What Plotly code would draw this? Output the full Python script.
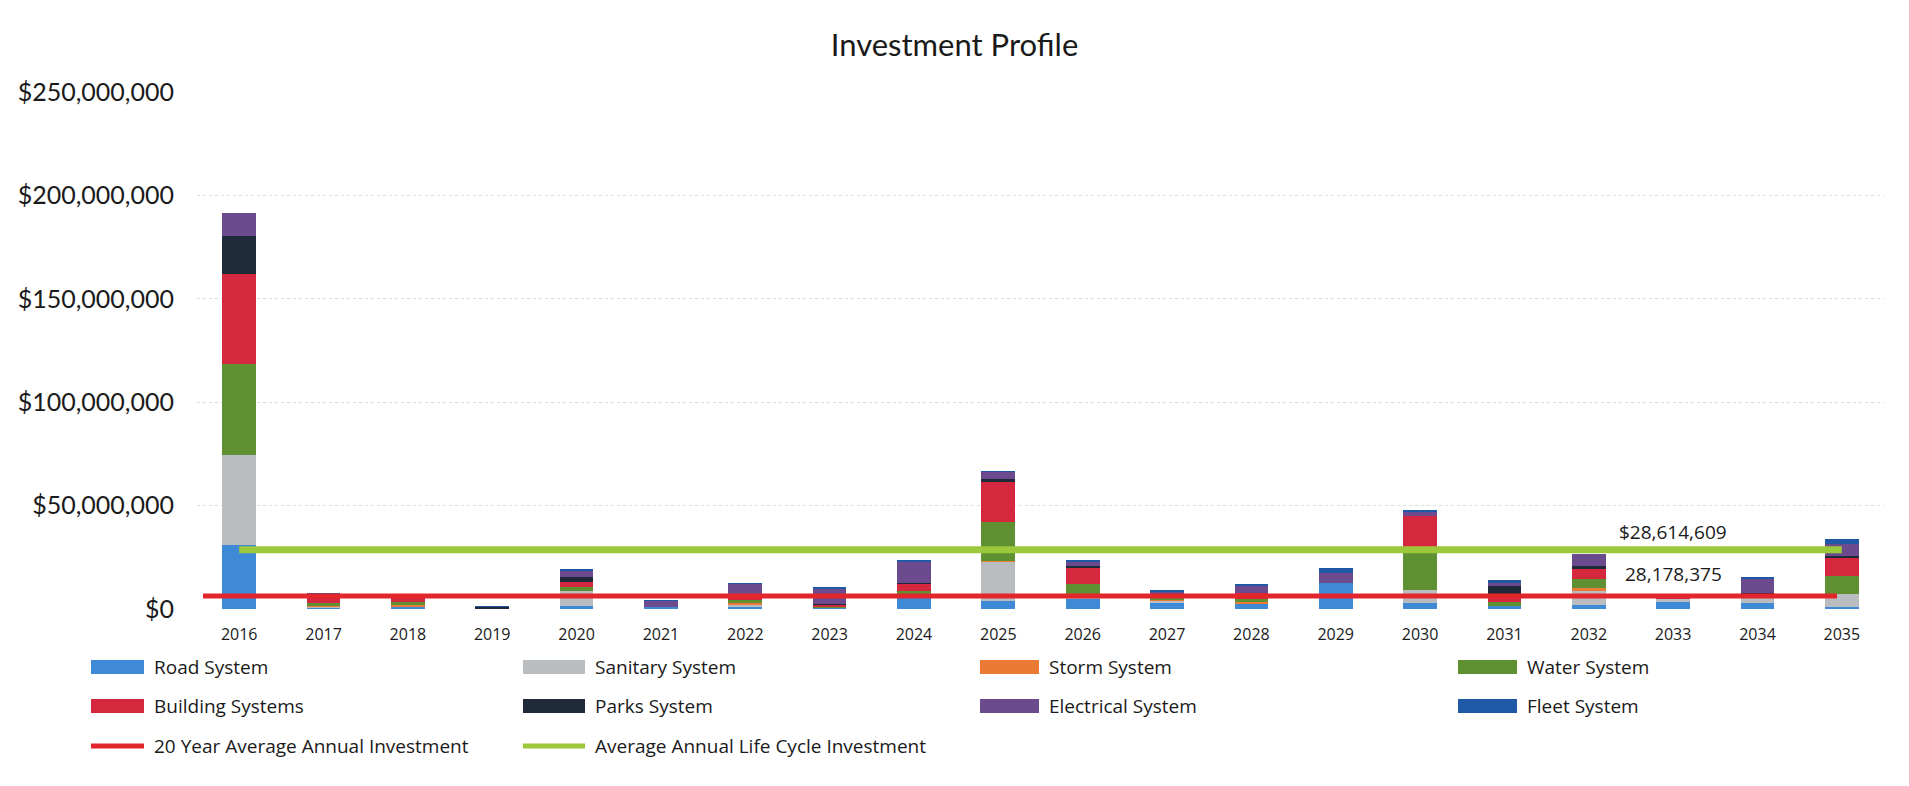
import plotly.graph_objects as go

# ---- data (values in $ millions) ----
years = [str(y) for y in range(2016, 2036)]

road_system =       [31.1, 0.8, 1.0, 0.0, 1.6, 1.0, 1.0, 0.6, 5.8, 3.7, 4.8, 2.9, 2.7, 12.5, 3.0, 1.3, 1.8, 3.3, 2.9, 1.0]
sanitary_system =   [43.4, 0.3, 0.3, 0.0, 7.2, 0.0, 0.8, 0.0, 0.8, 19.1, 2.4, 1.1, 0.0, 0.0, 6.0, 0.0, 7.1, 1.6, 4.0, 6.3]
storm_system =      [0.0, 0.4, 0.4, 0.3, 0.0, 0.0, 1.5, 0.2, 0.0, 0.5, 0.0, 0.8, 0.5, 0.0, 0.0, 0.0, 1.3, 0.0, 0.0, 0.0]
water_system =      [43.9, 1.5, 1.6, 0.0, 1.9, 0.0, 0.9, 0.6, 2.3, 18.8, 5.0, 0.8, 1.6, 0.0, 18.6, 2.0, 4.3, 0.0, 0.0, 8.5]
building_systems =  [43.4, 4.0, 3.0, 0.0, 2.3, 0.0, 1.1, 0.8, 3.5, 19.5, 7.6, 1.6, 2.7, 0.0, 17.5, 3.9, 4.8, 0.6, 0.0, 8.8]
parks_system =      [18.5, 0.0, 0.0, 0.7, 2.4, 0.0, 1.0, 0.2, 0.3, 1.1, 1.1, 0.0, 0.0, 0.0, 0.0, 3.8, 1.3, 0.6, 0.8, 1.1]
electrical_system = [11.3, 0.0, 0.3, 0.0, 3.4, 2.9, 6.0, 7.6, 9.8, 3.7, 2.1, 1.3, 4.0, 5.0, 2.0, 2.0, 6.0, 0.0, 7.2, 5.6]
fleet_system =      [0.0, 0.6, 0.7, 0.3, 0.6, 0.3, 0.2, 0.8, 1.1, 0.3, 0.8, 0.5, 0.8, 2.3, 1.0, 0.8, 0.0, 0.0, 0.8, 2.6]

twenty_year_average = 28178375
life_cycle_average = 28614609

y_tick_values = [0, 50e6, 100e6, 150e6, 200e6, 250e6]

series = [
    ("Road System", road_system, "#3f8ad6"),
    ("Sanitary System", sanitary_system, "#b9bdc0"),
    ("Storm System", storm_system, "#ea7a34"),
    ("Water System", water_system, "#5f9133"),
    ("Building Systems", building_systems, "#d5283f"),
    ("Parks System", parks_system, "#1e2939"),
    ("Electrical System", electrical_system, "#6b4b8d"),
    ("Fleet System", fleet_system, "#1f59a5"),
]
RED = "#e2262b"
GREEN = "#9cc83b"

# ---- layout geometry (pixels) ----
W, H = 1909, 786
L, R, T, B = 197, 25, 92, 177
PW, PH = W - L - R, H - T - B


def px(x):
    return (x - L) / PW


def py(y):
    return (H - B - y) / PH


TICK_FONT = "Lato, 'Open Sans', sans-serif"
TEXT_FONT = "'Open Sans', 'Noto Sans', sans-serif"

fig = go.Figure()

for name, values, color in series:
    fig.add_trace(go.Bar(
        x=years,
        y=[v * 1e6 for v in values],
        name=name,
        marker=dict(color=color, line=dict(width=0)),
        showlegend=False,
    ))

# life-cycle average on the primary axes
fig.add_trace(go.Scatter(
    x=years,
    y=[life_cycle_average] * len(years),
    mode="lines",
    line=dict(color=GREEN, width=7),
    name="Average Annual Life Cycle Investment",
    showlegend=False,
))

# 20-year average plotted on the secondary axes
fig.add_trace(go.Scatter(
    x=[int(y) for y in years],
    y=[twenty_year_average] * len(years),
    mode="lines",
    line=dict(color=RED, width=5),
    name="20 Year Average Annual Investment",
    xaxis="x2",
    yaxis="y2",
    showlegend=False,
))

# value labels sit above each average line, over the 2033 column
label_pos = years.index("2033")
annotations = [
    dict(x=label_pos, y=life_cycle_average, xref="x", yref="y",
         text="$28,614,609", showarrow=False, yanchor="bottom", yshift=3,
         font=dict(family=TEXT_FONT, size=19, color="#1a1a1a")),
    dict(x=label_pos, y=twenty_year_average, xref="x", yref="y2",
         text="28,178,375", showarrow=False, yanchor="bottom", yshift=7,
         font=dict(family=TEXT_FONT, size=19, color="#1a1a1a")),
]

# legend drawn as swatches + labels in four columns
legend_cols = [(91, 152), (523, 593), (980, 1047), (1458, 1525)]
legend_rows = [667, 706, 746]
legend_items = [
    ("Road System", "#3f8ad6", "bar", 0, 0),
    ("Sanitary System", "#b9bdc0", "bar", 1, 0),
    ("Storm System", "#ea7a34", "bar", 2, 0),
    ("Water System", "#5f9133", "bar", 3, 0),
    ("Building Systems", "#d5283f", "bar", 0, 1),
    ("Parks System", "#1e2939", "bar", 1, 1),
    ("Electrical System", "#6b4b8d", "bar", 2, 1),
    ("Fleet System", "#1f59a5", "bar", 3, 1),
    ("20 Year Average Annual Investment", RED, "line", 0, 2),
    ("Average Annual Life Cycle Investment", GREEN, "line", 1, 2),
]
shapes = []
for label, color, kind, c, r in legend_items:
    sx, tx = legend_cols[c]
    cy = legend_rows[r]
    sw = tx - sx - 8
    half = 7 if kind == "bar" else 2.5
    shapes.append(dict(
        type="rect", xref="paper", yref="paper",
        x0=px(sx), x1=px(sx + sw), y0=py(cy + half), y1=py(cy - half),
        fillcolor=color, line=dict(width=0), layer="above",
    ))
    annotations.append(dict(
        x=px(tx), y=py(cy), xref="paper", yref="paper",
        text=label, showarrow=False, xanchor="left", yanchor="middle",
        font=dict(family=TEXT_FONT, size=19, color="#1a1a1a"),
    ))

fig.update_layout(
    width=W, height=H,
    margin=dict(l=L, r=R, t=T, b=B),
    paper_bgcolor="#ffffff",
    plot_bgcolor="#ffffff",
    barmode="stack",
    bargap=0.6,
    title=dict(
        text="Investment Profile",
        x=0.5, xref="container", xanchor="center",
        y=1 - 45 / H, yref="container", yanchor="middle",
        font=dict(family=TICK_FONT, size=31, color="#1a1a1a"),
    ),
    xaxis=dict(
        type="category",
        range=[-0.5, len(years) - 0.5], autorange=False,
        showgrid=False, zeroline=False, showline=False,
        ticks="", ticklabelstandoff=14,
        tickfont=dict(family=TEXT_FONT, size=16, color="#1a1a1a"),
    ),
    yaxis=dict(
        range=[0, 250e6], autorange=False,
        tickvals=y_tick_values,
        tickformat="$,.0f",
        showgrid=True, gridcolor="#d8dde0", griddash="dot", gridwidth=1,
        zeroline=False, showline=False, ticks="",
        ticklabelstandoff=22,
        tickfont=dict(family=TICK_FONT, size=25, color="#1a1a1a"),
    ),
    xaxis2=dict(
        overlaying="x", range=[2015.93, 2035.546], autorange=False,
        visible=False, showgrid=False, zeroline=False,
    ),
    yaxis2=dict(
        overlaying="y", range=[0, 1.12e9], autorange=False,
        visible=False, showgrid=False, zeroline=False,
    ),
    shapes=shapes,
    annotations=annotations,
)

fig.write_html("out.html")
